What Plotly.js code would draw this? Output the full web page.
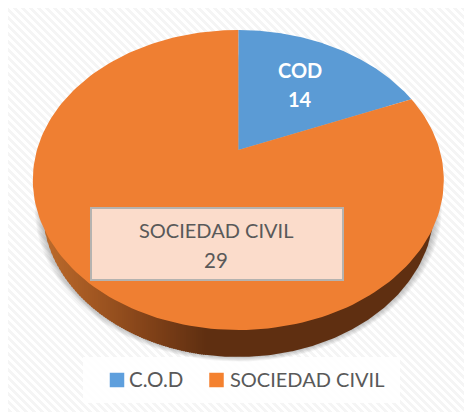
<!DOCTYPE html>
<html>
<head>
<meta charset="utf-8">
<script src="https://cdn.plot.ly/plotly-3.0.1.min.js"></script>
<style>
html,body{margin:0;padding:0;background:#fff;width:464px;height:412px;overflow:hidden}
#bg{position:absolute;left:8px;top:8px;width:456px;height:404px;
background:repeating-linear-gradient(45deg,#f5f5f5 0,#f5f5f5 2.83px,#ffffff 2.83px,#ffffff 5.66px)}
#chart{position:absolute;left:0;top:0;width:464px;height:412px}
</style>
</head>
<body>
<div id="bg"></div>
<div id="chart"></div>
<script>
// Data
const categories = ['C.O.D', 'SOCIEDAD CIVIL'];
const sliceLabels = ['COD', 'SOCIEDAD CIVIL'];
const labelValues = [14, 29];            // numbers printed on the reference's labels
const drawnShares = [18.8, 81.2];        // slice sizes as measured in the picture (%), which differ from 14:29
const sliceColors = ['#5b9bd5', '#ef7f32'];
const legendColors = ['#5e9fdd', '#f4812f'];

// Projection of the tilted pie
const view = {cx: 238.3, apexY: 150, a: 201.35, b: 144, k: 0.2};
const rim = {cx: 238.3, cy: 209, rx: 195.6, ry: 148};

function facePoint(t) {
  const u = Math.sin(t), v = Math.cos(t), d = 1 + view.k * v;
  return [view.cx + view.a * u / d, view.apexY - view.b * v / d];
}
function wedge(t0, t1, n) {
  const xs = [view.cx], ys = [view.apexY];
  for (let i = 0; i <= n; i++) {
    const p = facePoint(t0 + (t1 - t0) * i / n);
    xs.push(p[0]); ys.push(p[1]);
  }
  xs.push(view.cx); ys.push(view.apexY);
  return {xs, ys};
}
function rimColor(x) {
  const stops = [[40, [190, 108, 44]], [90, [163, 88, 34]], [150, [128, 65, 24]], [205, [95, 47, 17]], [470, [94, 47, 17]]];
  for (let i = 1; i < stops.length; i++) {
    if (x <= stops[i][0]) {
      const f = (x - stops[i - 1][0]) / (stops[i][0] - stops[i - 1][0]);
      const c = stops[i - 1][1].map((s, j) => Math.round(s + (stops[i][1][j] - s) * f));
      return 'rgb(' + c.join(',') + ')';
    }
  }
  return 'rgb(94,47,17)';
}

const traces = [];
const fillTrace = (xs, ys, color, lineW, opacity) => ({
  type: 'scatter', mode: 'lines', x: xs, y: ys, fill: 'toself', fillcolor: color,
  line: {color: color, width: lineW}, opacity: opacity, hoverinfo: 'skip', showlegend: false
});

// soft shadow
for (let g = 8; g >= 1; g--) {
  const xs = [], ys = [];
  for (let i = 0; i <= 120; i++) {
    const t = 2 * Math.PI * i / 120;
    xs.push(rim.cx + (rim.rx + g) * Math.cos(t));
    ys.push(rim.cy - 1 + (rim.ry + g * 0.7) * Math.sin(t));
  }
  traces.push(fillTrace(xs, ys, 'rgba(90,90,90,0.055)', 0, 1));
}

// rim side: vertical colour bands, so the shading runs left to right
function rimEdgeY(x) {
  const q = (x - rim.cx) / rim.rx;
  return rim.cy + rim.ry * Math.sqrt(Math.max(0, 1 - q * q));
}
function rimBand(x0, x1, color) {
  const xs = [], ys = [];
  const steps = Math.max(2, Math.ceil((x1 - x0) / 2));
  for (let i = 0; i <= steps; i++) {
    const x = x0 + (x1 - x0) * i / steps;
    xs.push(x); ys.push(rimEdgeY(x));
  }
  xs.push(x1, x0, x0); ys.push(rim.cy, rim.cy, rimEdgeY(x0));
  traces.push(fillTrace(xs, ys, color, 0, 1));
}
const rimLeft = rim.cx - rim.rx, rimRight = rim.cx + rim.rx, bandEnd = 205;
// darkest band first, then each lighter band laps under the next one to close seams
rimBand(bandEnd, rimRight, rimColor(bandEnd));
for (let x = bandEnd - 2; x > rimLeft; x -= 2) {
  const x0 = Math.max(rimLeft, x);
  rimBand(x0, x + 3, rimColor(x + 1));
}

// slices on the top face
const total = drawnShares.reduce((a, b) => a + b, 0);
let start = 0;
drawnShares.forEach((share, i) => {
  const end = start + share / total * 2 * Math.PI;
  const w = wedge(start, end, 180);
  const tr = fillTrace(w.xs, w.ys, sliceColors[i], 0, 1);
  tr.name = categories[i];
  traces.push(tr);
  start = end;
});

// legend keys
const legendKeyX = [117, 216.5];
const legendKeyY = [380, 380];
traces.push({
  type: 'scatter', mode: 'markers', x: legendKeyX, y: legendKeyY,
  marker: {symbol: 'square', size: 14.5, color: legendColors, line: {width: 0}},
  hoverinfo: 'skip', showlegend: false
});

const textGrey = '#595959';
const ann = (x, y, text, size, color, anchor, bold) => ({
  x, y, xref: 'x', yref: 'y', text: bold ? '<b>' + text + '</b>' : text, showarrow: false,
  xanchor: anchor || 'center', yanchor: 'middle',
  font: {family: 'Lato, Carlito, sans-serif', size, color}
});

const layout = {
  width: 464, height: 412,
  margin: {l: 0, r: 0, t: 0, b: 0},
  paper_bgcolor: 'rgba(0,0,0,0)', plot_bgcolor: 'rgba(0,0,0,0)',
  showlegend: false, hovermode: false,
  xaxis: {range: [0, 464], visible: false, fixedrange: true},
  yaxis: {range: [412, 0], visible: false, fixedrange: true},
  shapes: [
    {type: 'rect', xref: 'x', yref: 'y', x0: 83, x1: 400, y0: 357, y1: 403,
     fillcolor: 'rgba(255,255,255,0.85)', line: {width: 0}, layer: 'below'},
    {type: 'rect', xref: 'x', yref: 'y', x0: 91, x1: 343, y0: 208, y1: 280,
     fillcolor: '#fbdccb', line: {color: '#b5b3b0', width: 2}, layer: 'above'}
  ],
  annotations: [
    ann(300, 70, sliceLabels[0], 20, '#ffffff', 'center', true),
    ann(300, 99, String(labelValues[0]), 20, '#ffffff', 'center', true),
    ann(215.5, 229.5, sliceLabels[1], 20, textGrey),
    ann(216, 259.5, String(labelValues[1]), 20.5, textGrey),
    ann(127, 379, categories[0], 20.5, textGrey, 'left'),
    ann(227.5, 379, categories[1], 20, textGrey, 'left')
  ]
};

Plotly.newPlot('chart', traces, layout, {displayModeBar: false, staticPlot: true});
</script>
</body>
</html>
